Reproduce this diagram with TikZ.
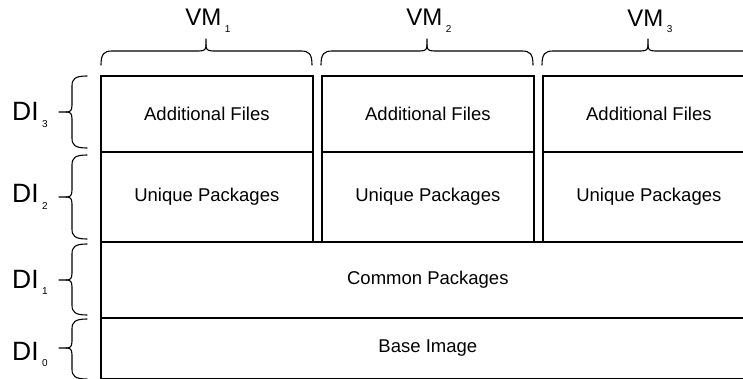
\documentclass[tikz,border=0pt]{standalone}
\usepackage{fontspec}
\setmainfont{Liberation Sans}
\tikzset{
  layerbox/.style={draw, line width=1.7pt, inner sep=0pt, anchor=north west,
    font=\fontsize{18.5}{21}\selectfont},
  bracepath/.style={draw, line width=1.1pt, line cap=round},
  dilabel/.style={anchor=base west, inner sep=0pt, font=\fontsize{26.5}{30}\selectfont},
  vmlabel/.style={anchor=base, inner sep=0pt, font=\fontsize{24}{27}\selectfont},
}
\newcommand\subidx[1]{\hspace{3.5pt}\raisebox{-6.5pt}{\fontsize{10}{11}\selectfont #1}}
\newcommand\BraceLeft[3]{%
  \path[bracepath] (87,#1) .. controls (75,#1) and (72,#1+3) .. (72,#1+10) -- (72,#2-7)
    .. controls (72,#2-1) and (70,#2) .. (66,#2) -- (59,#2);
  \path[bracepath] (87,#3) .. controls (75,#3) and (72,#3-3) .. (72,#3-10) -- (72,#2+7)
    .. controls (72,#2+1) and (70,#2) .. (66,#2);
}
\newcommand\BraceTop[3]{%
  \path[bracepath] (#1,65) .. controls (#1,54) and (#1+3,51) .. (#1+11,51) -- (#2-7,51)
    .. controls (#2-1,51) and (#2,49) .. (#2,45) -- (#2,39);
  \path[bracepath] (#3,65) .. controls (#3,54) and (#3-3,51) .. (#3-11,51) -- (#2+7,51)
    .. controls (#2+1,51) and (#2,49) .. (#2,45);
}
\begin{document}
\begin{tikzpicture}[x=1pt,y=-1pt]
\useasboundingbox (0,0) rectangle (743,379);
\clip (0,0) rectangle (743,379);
\fill[white] (0,0) rectangle (743,379);
% column boxes
\node[layerbox, minimum width=212pt, minimum height=76pt] (af1) at (100,75) {Additional Files};
\node[layerbox, minimum width=212pt, minimum height=76pt] (af2) at (321,75) {Additional Files};
\node[layerbox, minimum width=212pt, minimum height=76pt] (af3) at (542,75) {Additional Files};
\node[layerbox, minimum width=212pt, minimum height=90pt] (up1) at (100,151) {Unique Packages};
\node[layerbox, minimum width=212pt, minimum height=90pt] (up2) at (321,151) {Unique Packages};
\node[layerbox, minimum width=212pt, minimum height=90pt] (up3) at (542,151) {Unique Packages};
\node[layerbox, minimum width=654pt, minimum height=76pt] (cp) at (100,241) {Common Packages};
\node[layerbox, minimum width=654pt, minimum height=61pt] (bi) at (100,317) {Base Image};
% braces
\BraceTop{101}{206}{312}
\BraceTop{321}{427}{533}
\BraceTop{542}{648}{754}
\BraceLeft{76}{112}{148}
\BraceLeft{155}{197}{239}
\BraceLeft{244}{280}{315}
\BraceLeft{319}{348}{379}
% labels
\node[vmlabel] (vm1) at (208,26) {VM\subidx{1}};
\node[vmlabel] (vm2) at (429,26) {VM\subidx{2}};
\node[vmlabel] (vm3) at (650,26.5) {VM\subidx{3}};
\node[dilabel] (di3) at (12,121) {DI\subidx{3}};
\node[dilabel] (di2) at (12,203) {DI\subidx{2}};
\node[dilabel] (di1) at (12,288) {DI\subidx{1}};
\node[dilabel] (di0) at (12,360) {DI\subidx{0}};
\end{tikzpicture}
\end{document}
